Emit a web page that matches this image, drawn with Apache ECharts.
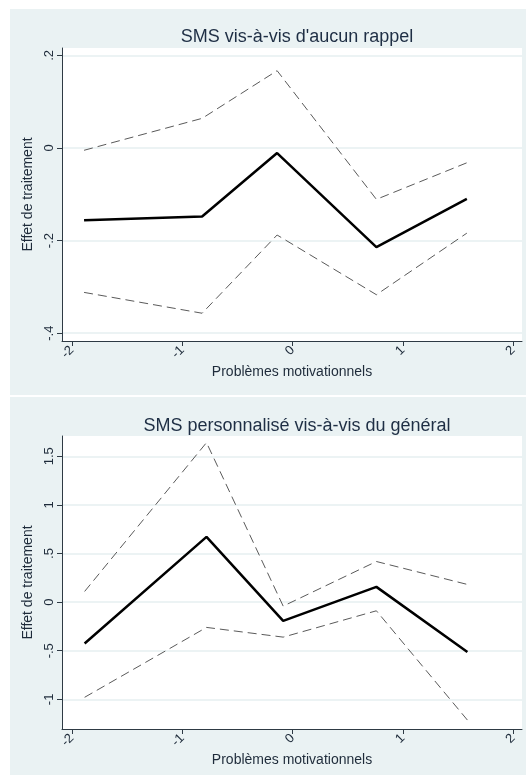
<!DOCTYPE html>
<html>
<head>
<meta charset="utf-8">
<script src="https://cdn.jsdelivr.net/npm/echarts@6/dist/echarts.min.js"></script>
<style>
html,body{margin:0;padding:0;background:#fff;}
#c{width:526px;height:775px;}
</style>
</head>
<body>
<div id="c"></div>
<script>
// ---- data ----
var titleTop = "SMS vis-à-vis d'aucun rappel";
var titleBottom = "SMS personnalisé vis-à-vis du général";
var xName = "Problèmes motivationnels";
var yName = "Effet de traitement";

var xTicks = [-2, -1, 0, 1, 2];
var yTicksTop = [-0.4, -0.2, 0, 0.2];
var yTicksBottom = [-1, -0.5, 0, 0.5, 1, 1.5];

var xTop = [-1.89, -0.82, -0.14, 0.76, 1.58];
var estTop = [-0.156, -0.148, -0.011, -0.214, -0.110];
var upTop = [-0.005, 0.064, 0.167, -0.111, -0.032];
var loTop = [-0.312, -0.357, -0.188, -0.317, -0.184];

var xBottom = [-1.885, -0.78, -0.085, 0.76, 1.585];
var estBottom = [-0.425, 0.671, -0.192, 0.157, -0.514];
var upBottom = [0.110, 1.641, -0.041, 0.418, 0.182];
var loBottom = [-0.979, -0.260, -0.360, -0.089, -1.213];

// ---- helpers ----
function pairs(xs, ys){ return xs.map(function(x,i){ return [x, ys[i]]; }); }
function fmt(v){
  var s = String(Math.round(v*100)/100);
  s = s.replace(/^0\./, '.').replace(/^-0\./, '-.');
  return s;
}
var FONT = "'Liberation Sans', Arial, sans-serif";
var TXT = '#1e2b3a';
var AX = '#2e3a44';
var GRIDC = '#e6eff1';

function xAxis(gi){
  return {
    gridIndex: gi, type: 'value', min: -2.09, max: 2.08,
    name: xName, nameLocation: 'middle', nameGap: 24,
    nameTextStyle: {fontFamily: FONT, fontSize: 14, color: TXT},
    axisLine: {show: true, onZero: false, lineStyle: {color: AX, width: 1}},
    axisTick: {show: true, length: 5, customValues: xTicks, lineStyle: {color: AX}},
    axisLabel: {customValues: xTicks, rotate: 45, margin: 7, fontFamily: FONT, fontSize: 13, color: TXT, formatter: fmt},
    splitLine: {show: false}
  };
}
function yAxis(gi, ticks, mn, mx){
  return {
    gridIndex: gi, type: 'value', min: mn, max: mx,
    name: yName, nameLocation: 'middle', nameGap: 21,
    nameTextStyle: {fontFamily: FONT, fontSize: 14, color: TXT},
    axisLine: {show: true, onZero: false, lineStyle: {color: AX, width: 1}},
    axisTick: {show: true, length: 5, customValues: ticks, lineStyle: {color: AX}},
    axisLabel: {customValues: ticks, rotate: 90, margin: 6, fontFamily: FONT, fontSize: 13, color: TXT, formatter: fmt},
    splitLine: {show: true, lineStyle: {color: GRIDC, width: 1.5}}
  };
}
function ser(gi, xs, ys, kind){
  var solid = kind === 'est';
  return {
    type: 'line', xAxisIndex: gi, yAxisIndex: gi,
    data: pairs(xs, ys), symbol: 'none', silent: true, animation: false,
    lineStyle: solid ? {color: '#000', width: 2.5}
                     : {color: '#5a5a5a', width: 1, type: [9, 5]}
  };
}

var chart = echarts.init(document.getElementById('c'), null, {renderer: 'canvas'});
chart.setOption({
  backgroundColor: '#ffffff',
  animation: false,
  graphic: [
    {type: 'rect', z: -10, shape: {x: 10, y: 9, width: 516, height: 386}, style: {fill: '#eaf2f3'}},
    {type: 'rect', z: -10, shape: {x: 10, y: 397, width: 516, height: 378}, style: {fill: '#eaf2f3'}},
    {type: 'rect', z: -9, shape: {x: 62, y: 48, width: 460, height: 293}, style: {fill: '#ffffff'}},
    {type: 'rect', z: -9, shape: {x: 62, y: 436, width: 460, height: 293}, style: {fill: '#ffffff'}}
  ],
  title: [
    {text: titleTop, left: 292, top: 23, textAlign: 'center',
     textStyle: {fontFamily: FONT, fontSize: 18, fontWeight: 'normal', color: '#1e2e44'}},
    {text: titleBottom, left: 292, top: 412, textAlign: 'center',
     textStyle: {fontFamily: FONT, fontSize: 18, fontWeight: 'normal', color: '#1e2e44'}}
  ],
  grid: [
    {left: 62, top: 48, width: 460, height: 293},
    {left: 62, top: 436, width: 460, height: 293}
  ],
  xAxis: [xAxis(0), xAxis(1)],
  yAxis: [yAxis(0, yTicksTop, -0.417, 0.216), yAxis(1, yTicksBottom, -1.305, 1.709)],
  series: [
    ser(0, xTop, upTop, 'ci'), ser(0, xTop, loTop, 'ci'), ser(0, xTop, estTop, 'est'),
    ser(1, xBottom, upBottom, 'ci'), ser(1, xBottom, loBottom, 'ci'), ser(1, xBottom, estBottom, 'est')
  ]
});
</script>
</body>
</html>
